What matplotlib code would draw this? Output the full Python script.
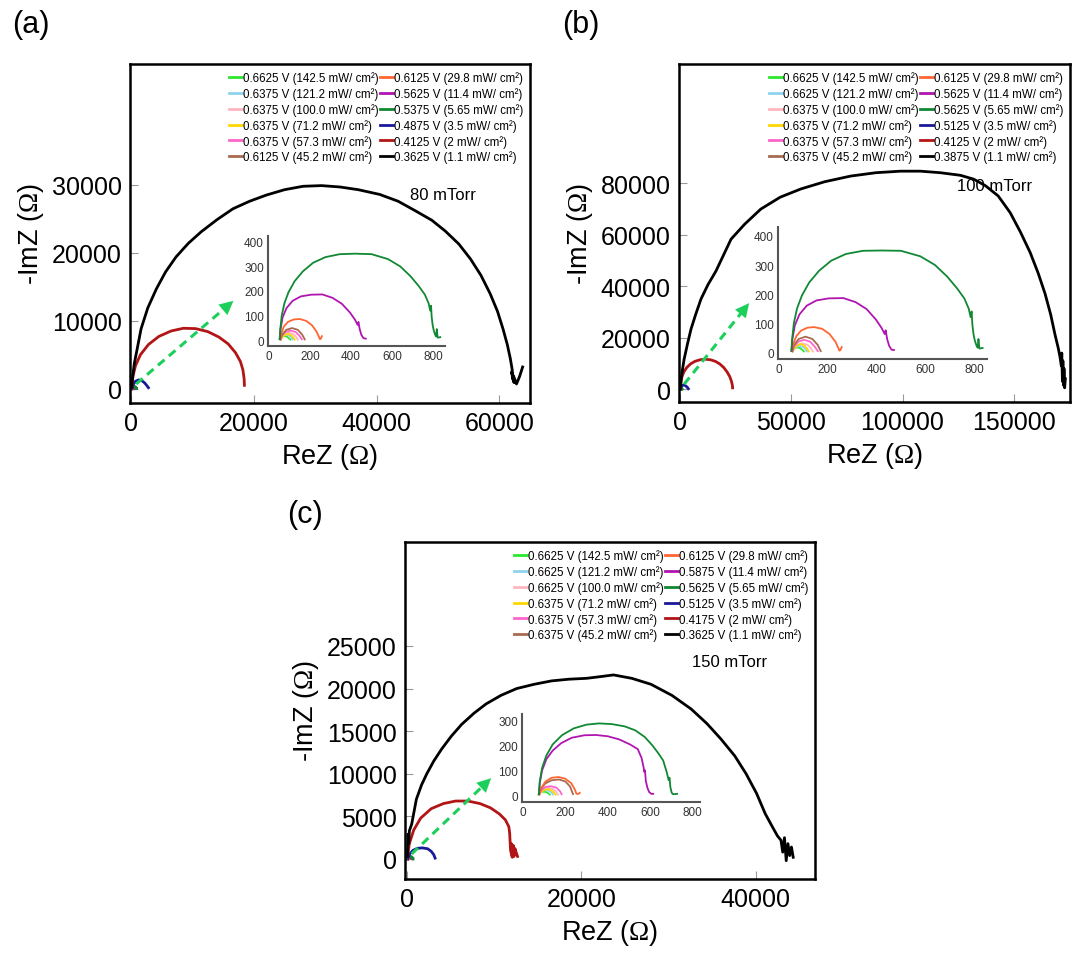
import matplotlib
matplotlib.use("Agg")
import matplotlib.pyplot as plt

plt.rcParams['font.family'] = ['Liberation Sans', 'DejaVu Sans']
plt.rcParams['mathtext.fontset'] = 'custom'
plt.rcParams['mathtext.rm'] = 'Liberation Sans'
plt.rcParams['mathtext.it'] = 'Liberation Sans:italic'
plt.rcParams['mathtext.bf'] = 'Liberation Sans:bold'
plt.rcParams['mathtext.sf'] = 'Liberation Serif'

# ---------------- common -----------------
intensity = ["142.5", "121.2", "100.0", "71.2", "57.3", "45.2", "29.8", "11.4", "5.65", "3.5", "2", "1.1"]
colors = ['#2ee82e', '#8fd3ee', '#ffb6c1', '#ffd700', '#ff66cc', '#a86a50',
          '#ff6633', '#b015b0', '#118833', '#1a1a99', '#b11515', '#000000']

volt_a = ["0.6625", "0.6375", "0.6375", "0.6375", "0.6375", "0.6125", "0.6125", "0.5625", "0.5375", "0.4875", "0.4125", "0.3625"]
volt_b = ["0.6625", "0.6625", "0.6375", "0.6375", "0.6375", "0.6375", "0.6125", "0.5625", "0.5625", "0.5125", "0.4125", "0.3875"]
volt_c = ["0.6625", "0.6625", "0.6625", "0.6375", "0.6375", "0.6375", "0.6125", "0.5875", "0.5625", "0.5125", "0.4175", "0.3625"]

# ---------------- panel (a) data (ReZ, -ImZ) -----------------
a_g142_x = [56, 60, 68, 78, 88, 97, 104]
a_g142_y = [2, 9, 15, 17, 14, 7, 2]
a_lb121_x = [56, 61, 72, 86, 100, 110, 116]
a_lb121_y = [2, 11, 19, 22, 18, 9, 2]
a_pk100_x = [57, 63, 78, 98, 118, 132, 140]
a_pk100_y = [2, 13, 25, 30, 25, 13, 2]
a_y71_x = [58, 64, 76, 92, 108, 119, 125]
a_y71_y = [2, 11, 21, 25, 20, 10, 2]
a_hp57_x = [56, 63, 80, 105, 130, 150, 160]
a_hp57_y = [3, 18, 33, 39, 33, 16, 3]
a_br45_x = [56, 64, 84, 112, 140, 162, 174]
a_br45_y = [3, 22, 42, 49, 42, 22, 3]
a_or29_x = [55, 60, 72, 92, 120, 150, 182, 210, 232, 244, 248, 252, 258]
a_or29_y = [3, 28, 55, 74, 84, 86, 78, 60, 34, 12, 4, 5, 16]
a_pu11_x = [52, 56, 66, 85, 115, 155, 205, 260, 310, 355, 395, 420, 432, 436, 442, 450, 460, 472]
a_pu11_y = [4, 45, 92, 130, 160, 178, 185, 186, 172, 148, 112, 82, 62, 74, 45, 22, 8, 6]
a_dg5_x = [52, 55, 62, 75, 95, 125, 165, 215, 275, 345, 420, 500, 580, 640, 690, 730, 760, 778,
           786, 790, 793, 798, 803, 810, 815, 818, 822, 835]
a_dg5_y = [4, 45, 100, 150, 195, 240, 280, 315, 338, 350, 352, 350, 330, 300, 260, 220, 185, 150,
           120, 140, 95, 60, 40, 22, 15, 45, 10, 12]
a_bl3_x = [150, 350, 700, 1200, 1700, 2200, 2600, 2800]
a_bl3_y = [150, 650, 1100, 1300, 1200, 850, 400, 150]
a_rd2_x = [100, 300, 700, 1500, 2800, 4500, 6500, 8500, 10500, 12500, 14300, 15800, 17000, 17800, 18200, 18400, 18450]
a_rd2_y = [200, 1900, 3400, 5000, 6500, 7700, 8500, 8900, 8850, 8400, 7600, 6600, 5300, 4000, 2800, 1500, 500]
a_bk1_x = [80, 200, 500, 1000, 1600, 2700, 4100, 5600, 7300, 9300, 11400, 14000, 16600, 19300, 22000,
           25000, 28000, 31000, 34000, 37000, 40500, 43500, 46300, 49000, 51200, 53400, 55300, 57000,
           58500, 59700, 60600, 61300, 61800, 62100, 62200, 62000, 62400, 62300, 62800, 63300, 63800]
a_bk1_y = [200, 1500, 3700, 6000, 8800, 11900, 14700, 17200, 19400, 21400, 23100, 24900, 26500, 27600,
           28500, 29300, 29800, 29900, 29700, 29300, 28600, 27600, 26200, 24800, 23200, 21300, 19100,
           16700, 14000, 11400, 8800, 6500, 4400, 2800, 1400, 2500, 900, 1900, 700, 1800, 3200]

# ---------------- panel (b) data -----------------
b_g142_x = [56, 60, 68, 78, 88, 97, 103]
b_g142_y = [2, 8, 14, 16, 13, 7, 2]
b_lb121_x = [56, 61, 72, 86, 100, 110, 116]
b_lb121_y = [2, 10, 18, 21, 17, 9, 2]
b_pk100_x = [57, 63, 78, 98, 118, 132, 140]
b_pk100_y = [2, 13, 25, 30, 25, 13, 2]
b_y71_x = [57, 63, 75, 90, 105, 117, 123]
b_y71_y = [2, 12, 23, 28, 22, 11, 2]
b_hp57_x = [56, 63, 80, 104, 128, 148, 160]
b_hp57_y = [3, 19, 36, 42, 36, 18, 3]
b_br45_x = [56, 63, 82, 110, 138, 160, 172]
b_br45_y = [3, 24, 45, 53, 45, 24, 3]
b_or29_x = [55, 60, 72, 92, 118, 145, 178, 208, 232, 244, 248, 252, 258]
b_or29_y = [3, 28, 55, 74, 84, 86, 80, 62, 36, 14, 5, 6, 17]
b_pu11_x = [52, 56, 66, 85, 115, 155, 205, 265, 315, 360, 398, 422, 434, 438, 444, 452, 462, 472]
b_pu11_y = [4, 45, 92, 130, 160, 178, 185, 186, 172, 148, 112, 82, 62, 75, 45, 22, 8, 7]
b_dg5_x = [52, 55, 62, 75, 95, 125, 165, 215, 275, 345, 420, 500, 580, 640, 690, 730, 760, 778,
           786, 790, 793, 798, 803, 810, 815, 818, 822, 835]
b_dg5_y = [4, 45, 100, 150, 195, 240, 280, 315, 338, 349, 350, 349, 330, 300, 260, 220, 185, 150,
           120, 140, 95, 60, 40, 22, 15, 45, 12, 14]
b_bl3_x = [100, 400, 900, 1500, 2200, 2900, 3400, 3700]
b_bl3_y = [200, 900, 1400, 1600, 1450, 1000, 500, 150]
b_rd2_x = [100, 300, 800, 1700, 3000, 4700, 6700, 9000, 11300, 13600, 15800, 17800, 19600, 21100, 22300, 23100, 23500, 23600]
b_rd2_y = [300, 2500, 4700, 6700, 8400, 9800, 10800, 11400, 11600, 11400, 10800, 9800, 8400, 6700, 4900, 3000, 1500, 500]
b_bk1_x = [100, 600, 1800, 3300, 4900, 7000, 9400, 12500, 16100, 19500, 22900, 29000, 36300, 45000,
           54300, 65000, 76700, 88000, 99100, 108000, 117000, 126000, 132000, 137200, 143000, 148400,
           153000, 157400, 161000, 164100, 166600, 168600, 170000, 170800, 171400, 171600, 171900,
           172100, 172400, 172600, 172900, 173200]
b_bk1_y = [300, 5000, 11600, 17500, 23300, 29000, 35000, 40500, 45800, 52000, 58200, 64000, 69900,
           74500, 77700, 80500, 82700, 84000, 84600, 84600, 84000, 83000, 81500, 79000, 75000, 68500,
           61000, 53000, 45000, 37000, 29000, 21000, 16000, 12500, 9000, 14000, 3000, 11000, 1500,
           8000, 500, 4000]

# ---------------- panel (c) data -----------------
c_g142_x = [72, 78, 88, 100, 112, 121, 126]
c_g142_y = [2, 8, 13, 14, 11, 6, 2]
c_lb121_x = [73, 80, 94, 110, 126, 137, 142]
c_lb121_y = [2, 10, 18, 20, 16, 8, 2]
c_pk100_x = [74, 82, 100, 122, 143, 158, 165]
c_pk100_y = [2, 13, 25, 29, 24, 12, 2]
c_y71_x = [75, 82, 97, 116, 134, 147, 154]
c_y71_y = [2, 11, 20, 24, 19, 10, 2]
c_hp57_x = [75, 84, 104, 132, 158, 175, 182]
c_hp57_y = [3, 17, 32, 36, 30, 15, 3]
c_br45_x = [76, 85, 105, 135, 170, 200, 222, 232, 236]
c_br45_y = [3, 25, 47, 60, 63, 55, 35, 12, 4]
c_or29_x = [78, 86, 106, 135, 168, 200, 228, 245, 252, 257, 263, 268]
c_or29_y = [3, 28, 55, 70, 73, 66, 48, 22, 6, 4, 6, 9]
c_pu11_x = [75, 79, 90, 110, 140, 180, 230, 290, 345, 400, 455, 505, 542, 560, 570, 572, 576, 580, 588, 596, 606, 615]
c_pu11_y = [4, 50, 100, 145, 180, 210, 232, 242, 243, 238, 225, 205, 186, 150, 110, 95, 100, 57, 28, 12, 5, 5]
c_dg5_x = [75, 79, 90, 110, 140, 185, 240, 300, 360, 420, 480, 530, 575, 612, 640, 662, 678, 688, 692, 696, 702, 708, 718, 728]
c_dg5_y = [4, 55, 110, 160, 205, 243, 270, 285, 290, 287, 278, 262, 235, 200, 168, 140, 95, 60, 70, 32, 10, 4, 4, 5]
c_bl3_x = [150, 350, 700, 1200, 1800, 2400, 2800, 3100, 3250]
c_bl3_y = [100, 600, 1000, 1250, 1300, 1200, 900, 500, 100]
c_rd2_x = [100, 300, 800, 1600, 2800, 4200, 5600, 7000, 8400, 9600, 10600, 11300, 11700, 11800, 11850,
           11900, 12100, 12000, 12300, 12200, 12500, 12400, 12700]
c_rd2_y = [300, 1800, 3400, 4800, 5900, 6500, 6800, 6800, 6500, 6000, 5300, 4600, 3800, 3000, 2000,
           1000, 200, 1800, 300, 1600, 500, 1200, 300]
c_bk1_x = [80, 150, 230, 300, 570, 1100, 1700, 2300, 3100, 4000, 5100, 6300, 7700, 9100, 10800, 12600,
           14600, 16600, 18600, 20600, 22200, 23700, 25800, 28000, 30400, 32600, 34400, 36000, 37600,
           38900, 40100, 41100, 41900, 42500, 42900, 43100, 43300, 43500, 43700, 43900, 44100, 44300]
c_bk1_y = [300, 2900, 1800, 3300, 4100, 7000, 8700, 10000, 11500, 12900, 14400, 15800, 17100, 18200,
           19200, 20000, 20500, 20900, 21100, 21200, 21400, 21600, 21200, 20500, 19200, 17600, 15900,
           14100, 12100, 10000, 7700, 5300, 3800, 2700, 2200, 800, 2500, -200, 1800, 400, 1400, 200]

series_a = [(a_g142_x, a_g142_y), (a_lb121_x, a_lb121_y), (a_pk100_x, a_pk100_y), (a_y71_x, a_y71_y),
            (a_hp57_x, a_hp57_y), (a_br45_x, a_br45_y), (a_or29_x, a_or29_y), (a_pu11_x, a_pu11_y),
            (a_dg5_x, a_dg5_y), (a_bl3_x, a_bl3_y), (a_rd2_x, a_rd2_y), (a_bk1_x, a_bk1_y)]
series_b = [(b_g142_x, b_g142_y), (b_lb121_x, b_lb121_y), (b_pk100_x, b_pk100_y), (b_y71_x, b_y71_y),
            (b_hp57_x, b_hp57_y), (b_br45_x, b_br45_y), (b_or29_x, b_or29_y), (b_pu11_x, b_pu11_y),
            (b_dg5_x, b_dg5_y), (b_bl3_x, b_bl3_y), (b_rd2_x, b_rd2_y), (b_bk1_x, b_bk1_y)]
series_c = [(c_g142_x, c_g142_y), (c_lb121_x, c_lb121_y), (c_pk100_x, c_pk100_y), (c_y71_x, c_y71_y),
            (c_hp57_x, c_hp57_y), (c_br45_x, c_br45_y), (c_or29_x, c_or29_y), (c_pu11_x, c_pu11_y),
            (c_dg5_x, c_dg5_y), (c_bl3_x, c_bl3_y), (c_rd2_x, c_rd2_y), (c_bk1_x, c_bk1_y)]

pressure = ["80 mTorr", "100 mTorr", "150 mTorr"]
panel_tags = ["(a)", "(b)", "(c)"]

xticks_a = [0, 20000, 40000, 60000]
yticks_a = [0, 10000, 20000, 30000]
xticks_b = [0, 50000, 100000, 150000]
yticks_b = [0, 20000, 40000, 60000, 80000]
xticks_c = [0, 20000, 40000]
yticks_c = [0, 5000, 10000, 15000, 20000, 25000]

inset_xticks = [0, 200, 400, 600, 800]
inset_yticks_ab = [0, 100, 200, 300, 400]
inset_yticks_c = [0, 100, 200, 300]

# arrow (start, tip) in data coordinates of the main axes
arrow_a = ((800, 700), (17000, 13200))
arrow_b = ((1800, 1900), (31800, 34200))
arrow_c = ((570, 600), (9900, 9700))

W, H = 1073, 954
fig = plt.figure(figsize=(W / 100, H / 100), dpi=100)


def px_rect(l, r, t, b):
    return [l / W, 1 - b / H, (r - l) / W, (b - t) / H]


def make_panel(rect, irect, series, volts, xlim, ylim, xt, yt, ixlim, iylim, iyt, ptxt, ptpos, arrow):
    ax = fig.add_axes(rect)
    handles = []
    for (x, y), c in zip(series, colors):
        ln, = ax.plot(x, y, color=c, lw=2.0, solid_joinstyle='round')
        handles.append(ln)
    ax.set_xlim(*xlim)
    ax.set_ylim(*ylim)
    ax.set_xticks(xt)
    ax.set_yticks(yt)
    ax.set_xticklabels([str(v) for v in xt])
    ax.set_yticklabels([str(v) for v in yt])
    ax.tick_params(direction='in', length=6, width=0.8, color='#999999', labelsize=18, pad=6)
    for s in ax.spines.values():
        s.set_linewidth(1.8)
        s.set_color('black')
    ax.set_xlabel(r'ReZ ($\mathsf{\Omega}$)', fontsize=19.5, labelpad=4)
    ax.set_ylabel(r'-ImZ ($\mathsf{\Omega}$)', fontsize=19.5, labelpad=4)
    labels = [f"{v} V ({i} mW/ cm\u00b2)" for v, i in zip(volts, intensity)]
    ax.legend(handles, labels, ncol=2, loc='upper right', frameon=False, fontsize=8.3,
              handlelength=1.1, handletextpad=0.1, columnspacing=0.12, labelspacing=0.27,
              borderaxespad=0.15, borderpad=0.45)
    ax.text(ptpos[0], ptpos[1], ptxt, transform=ax.transAxes, fontsize=12, ha='left', va='center')
    # dashed green arrow
    (x0, y0), (x1, y1) = arrow
    ac = '#1ccf5a'
    ax.plot([x0, x0 + 0.93 * (x1 - x0)], [y0, y0 + 0.93 * (y1 - y0)], color=ac, lw=2.2,
            ls=(0, (2.8, 1.9)), zorder=5)
    ax.annotate('', xy=(x1, y1), xytext=(x0 + 0.85 * (x1 - x0), y0 + 0.85 * (y1 - y0)),
                arrowprops=dict(arrowstyle='-|>,head_length=0.7,head_width=0.35', color=ac, lw=0.1,
                                mutation_scale=14), zorder=6)
    # inset
    ia = fig.add_axes(irect)
    ia.patch.set_alpha(0)
    for (x, y), c in zip(series[:9], colors[:9]):
        ia.plot(x, y, color=c, lw=1.3)
    ia.set_xlim(*ixlim)
    ia.set_ylim(*iylim)
    ia.set_xticks(inset_xticks)
    ia.set_yticks(iyt)
    ia.spines['top'].set_visible(False)
    ia.spines['right'].set_visible(False)
    for s in ('left', 'bottom'):
        ia.spines[s].set_color('#555555')
        ia.spines[s].set_linewidth(1.5)
    ia.tick_params(length=0, labelsize=8.5, labelcolor='#333333', pad=3)
    return ax, ia


make_panel(px_rect(130, 530, 65, 404), px_rect(268, 445, 237, 347), series_a, volt_a,
           (-200, 65000), (-2100, 47800), xticks_a, yticks_a,
           (-5, 858), (-24, 424), inset_yticks_ab, pressure[0], (0.70, 0.614), arrow_a)
make_panel(px_rect(679, 1070, 65, 403), px_rect(778, 987, 228, 360), series_b, volt_b,
           (-500, 175300), (-5000, 126200), xticks_b, yticks_b,
           (-3, 853), (-24, 431), inset_yticks_ab, pressure[1], (0.711, 0.642), arrow_b)
make_panel(px_rect(405, 815, 543, 880), px_rect(522, 700, 715, 803), series_c, volt_c,
           (-200, 46800), (-2350, 37200), xticks_c, yticks_c,
           (-5, 836), (-28, 328), inset_yticks_c, pressure[2], (0.70, 0.644), arrow_c)

fig.text(12 / W, 1 - 25 / H, panel_tags[0], fontsize=22, ha='left', va='center')
fig.text(562 / W, 1 - 25 / H, panel_tags[1], fontsize=22, ha='left', va='center')
fig.text(287 / W, 1 - 515 / H, panel_tags[2], fontsize=22, ha='left', va='center')

fig.savefig('out.png', dpi=100)
